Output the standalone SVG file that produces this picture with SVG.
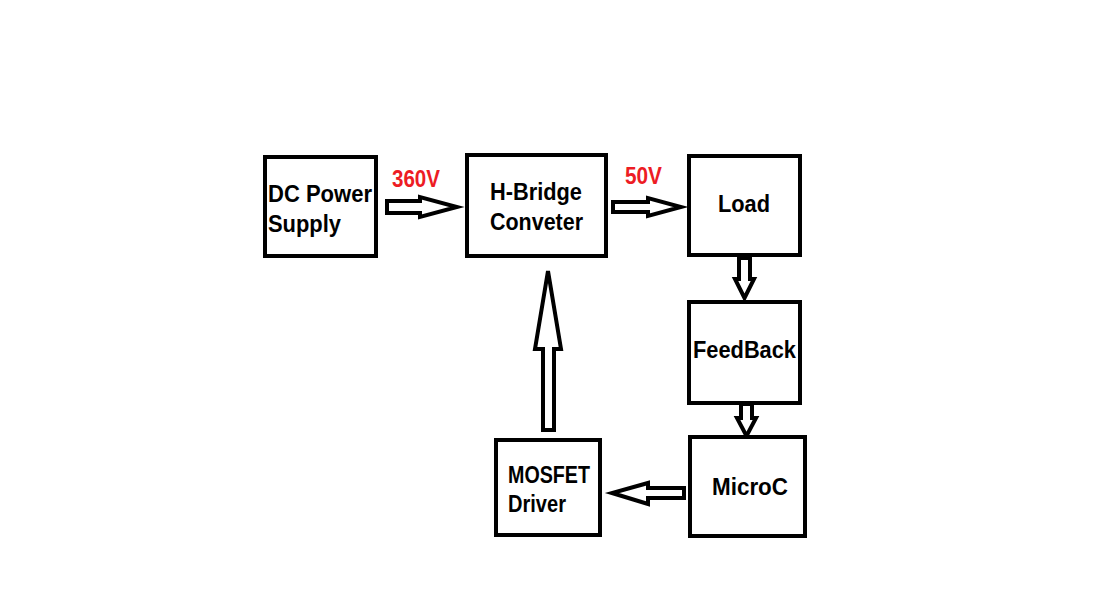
<svg xmlns="http://www.w3.org/2000/svg" width="1119" height="607" viewBox="0 0 1119 607">
<style>
.box{fill:#fff;stroke:#000;stroke-width:4}
.arr{fill:#fff;stroke:#000;stroke-width:4;stroke-linejoin:miter}
.t{font-family:"Liberation Sans",Arial,sans-serif;font-weight:bold;font-size:23px;fill:#000}
.v{font-family:"Liberation Sans",Arial,sans-serif;font-weight:bold;font-size:23px;fill:#ed1c24}
</style>
<rect width="1119" height="607" fill="#fff"/>
<g id="connectors">
<polygon class="arr" points="387,201 420,201 420,197 457,207 420,217 420,213 387,213"/>
<polygon class="arr" points="613,202 648,202 648,198 681,207 648,216 648,212 613,212"/>
<polygon class="arr" points="739,258 750,258 750,279 754,279 744.5,298 735,279 739,279"/>
<polygon class="arr" points="741,404 752,404 752,418 756,418 746.5,436 737,418 741,418"/>
<polygon class="arr" points="684,488 648,488 648,483 612,493 648,504 648,498 684,498"/>
<polygon class="arr" points="543,430 543,349 535,349 548,271 561,349 554,349 554,430"/>
</g>
<g id="label-360V"><text class="v" x="392" y="187" textLength="48" lengthAdjust="spacingAndGlyphs">360V</text></g>
<g id="label-50V"><text class="v" x="625" y="184" textLength="37" lengthAdjust="spacingAndGlyphs">50V</text></g>
<g id="dc-power-supply">
<rect class="box" x="265" y="157" width="111" height="99"/>
<text class="t" x="268" y="202" textLength="104" lengthAdjust="spacingAndGlyphs">DC Power</text>
<text class="t" x="268" y="232" textLength="73" lengthAdjust="spacingAndGlyphs">Supply</text>
</g>
<g id="h-bridge">
<rect class="box" x="467" y="155" width="139" height="101"/>
<text class="t" x="490" y="200" textLength="92" lengthAdjust="spacingAndGlyphs">H-Bridge</text>
<text class="t" x="490" y="230" textLength="93" lengthAdjust="spacingAndGlyphs">Conveter</text>
</g>
<g id="load">
<rect class="box" x="689" y="156" width="111" height="99"/>
<text class="t" x="718" y="212" textLength="52" lengthAdjust="spacingAndGlyphs">Load</text>
</g>
<g id="feedback">
<rect class="box" x="689" y="302" width="111" height="101"/>
<text class="t" x="693" y="358" textLength="103" lengthAdjust="spacingAndGlyphs">FeedBack</text>
</g>
<g id="microc">
<rect class="box" x="690" y="437" width="115" height="99"/>
<text class="t" x="712" y="495" textLength="76" lengthAdjust="spacingAndGlyphs">MicroC</text>
</g>
<g id="mosfet-driver">
<rect class="box" x="496" y="440" width="104" height="95"/>
<text class="t" x="508" y="483" font-size="22" textLength="82" lengthAdjust="spacingAndGlyphs">MOSFET</text>
<text class="t" x="508" y="512" font-size="22" textLength="58" lengthAdjust="spacingAndGlyphs">Driver</text>
</g>
</svg>
